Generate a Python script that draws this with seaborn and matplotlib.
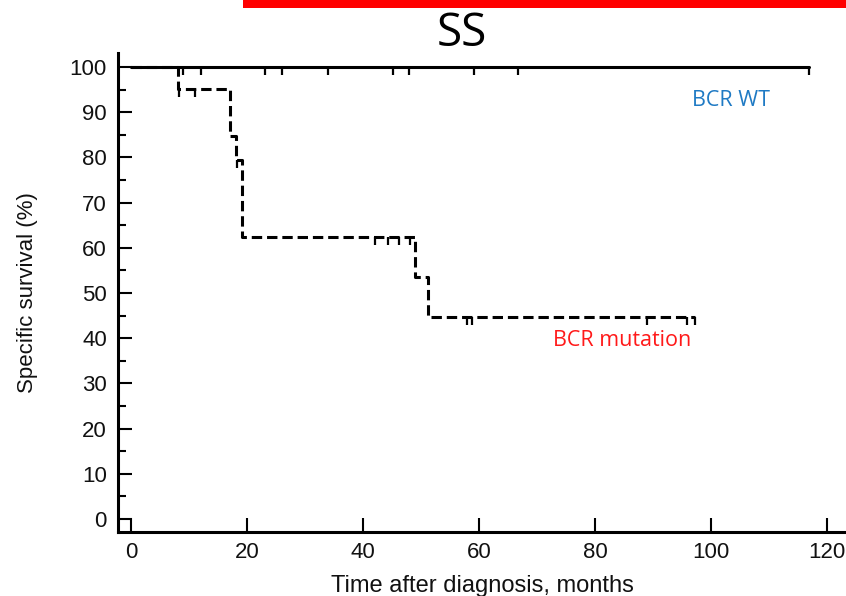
import matplotlib
matplotlib.use("Agg")
import matplotlib.pyplot as plt
from matplotlib.ticker import MultipleLocator
from matplotlib.patches import Rectangle
import seaborn as sns
import pandas as pd

# ---- data ----
wt_time = [0, 117]
wt_surv = [100, 100]
wt_cens_time = [9.0, 12.1, 23.1, 26.1, 34.0, 45.1, 48.0, 59.1, 66.8, 117.0]
wt_cens_surv = [100, 100, 100, 100, 100, 100, 100, 100, 100, 100]

mut_time = [0, 8.1, 17.1, 18.1, 19.1, 49.0, 51.2, 97.3]
mut_surv = [100, 95.2, 84.7, 79.4, 62.4, 53.5, 44.6, 44.6]
mut_cens_time = [8.3, 11.1, 18.3, 42.1, 44.4, 46.3, 48.2, 58.0, 58.8, 88.9, 95.8, 97.3]
mut_cens_surv = [95.2, 95.2, 79.4, 62.4, 62.4, 62.4, 62.4, 44.6, 44.6, 44.6, 44.6, 44.6]

x_ticks = [0, 20, 40, 60, 80, 100, 120]
y_ticks = [0, 10, 20, 30, 40, 50, 60, 70, 80, 90, 100]

title = "SS"
x_label = "Time after diagnosis, months"
y_label = "Specific survival (%)"
wt_name = "BCR WT"
mut_name = "BCR mutation"

# ---- tables ----
curves = pd.DataFrame({
    "time": wt_time + mut_time,
    "surv": wt_surv + mut_surv,
    "group": ["WT"] * len(wt_time) + ["MUT"] * len(mut_time),
})
cens = pd.DataFrame({
    "time": wt_cens_time + mut_cens_time,
    "surv": wt_cens_surv + mut_cens_surv,
})

sns.set_style("ticks")
plt.rcParams["font.family"] = ["Liberation Sans", "DejaVu Sans"]

fig = plt.figure(figsize=(8.46, 5.96), dpi=100)
ax = fig.add_axes([118 / 846, 64 / 596, 728 / 846, 479 / 596])

sns.lineplot(data=curves, x="time", y="surv", hue="group", style="group",
             palette={"WT": "black", "MUT": "black"},
             dashes={"WT": "", "MUT": (3.4, 1.6)},
             sizes=None, linewidth=2.2, drawstyle="steps-post",
             estimator=None, sort=True, legend=False, ax=ax)
for ln in ax.lines:
    ln.set_dash_capstyle("butt")

sns.scatterplot(data=cens, x="time", y="surv", marker=3, s=36,
                color="black", linewidth=1.6, legend=False, ax=ax, zorder=3)

ax.set_xlim(-2.24, 123.3)
ax.set_ylim(-2.88, 103.1)
ax.set_xticks(x_ticks)
ax.set_yticks(y_ticks)
ax.yaxis.set_minor_locator(MultipleLocator(5))

for side in ["top", "right"]:
    ax.spines[side].set_visible(False)
for side in ["left", "bottom"]:
    ax.spines[side].set_linewidth(2.2)
    ax.spines[side].set_color("black")

ax.tick_params(axis="both", which="major", direction="in", length=10,
               width=1.5, color="black", labelsize=16, labelcolor="#111111")
ax.tick_params(axis="y", which="major", pad=8)
ax.tick_params(axis="x", which="major", pad=7)
ax.tick_params(axis="y", which="minor", direction="in", length=5.5,
               width=1.5, color="black")

ax.set_xlabel(x_label, fontsize=17, labelpad=9, color="#111111")
ax.set_ylabel(y_label, fontsize=16, labelpad=23, color="#111111")

ax.text(96.7, 92.7, wt_name, color="#1f7ac4", fontsize=15.5,
        family=["Open Sans", "DejaVu Sans"], ha="left", va="center")
ax.text(72.8, 39.6, mut_name, color="#ff1a1a", fontsize=15.5,
        family=["Open Sans", "DejaVu Sans"], ha="left", va="center")

fig.text(462 / 846, 1 - 34 / 596, title, fontsize=33,
         family=["Open Sans", "DejaVu Sans"], ha="center", va="center",
         color="black")

fig.patches.append(Rectangle((243 / 846, 1 - 8 / 596), 1, 0.05,
                             transform=fig.transFigure, facecolor="#ff0000",
                             edgecolor="none", figure=fig))

fig.savefig("out.png", dpi=100)
